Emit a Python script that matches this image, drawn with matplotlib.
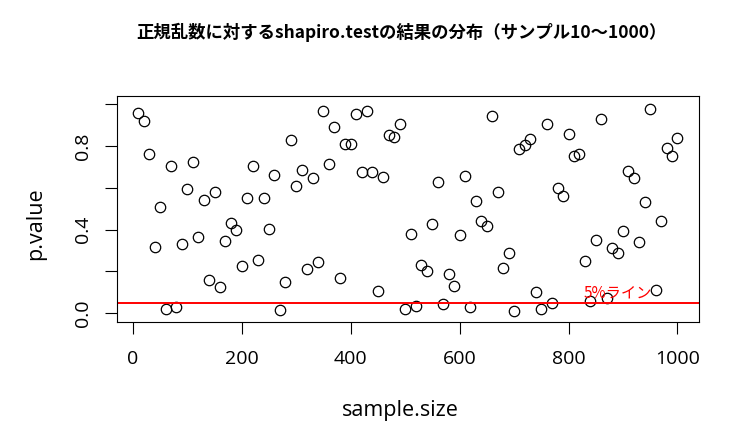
import matplotlib
matplotlib.use("Agg")
import matplotlib.pyplot as plt
import numpy as np

latin = ['Open Sans', 'Noto Sans CJK JP', 'DejaVu Sans']
cjk = ['Noto Sans CJK JP', 'DejaVu Sans']
plt.rcParams['font.family'] = latin

# sample sizes 10..1000 step 10
sample_size = list(range(10, 1001, 10))
# p values
p_value = [
    0.956, 0.919, 0.763, 0.317, 0.508, 0.019, 0.702, 0.032, 0.329, 0.594,
    0.725, 0.365, 0.543, 0.157, 0.579, 0.127, 0.344, 0.433, 0.400, 0.227,
    0.551, 0.706, 0.257, 0.552, 0.403, 0.660, 0.016, 0.148, 0.830, 0.610,
    0.684, 0.210, 0.648, 0.243, 0.967, 0.716, 0.890, 0.168, 0.808, 0.808,
    0.954, 0.676, 0.968, 0.676, 0.105, 0.651, 0.852, 0.843, 0.905, 0.021,
    0.378, 0.037, 0.230, 0.203, 0.429, 0.629, 0.046, 0.190, 0.129, 0.373,
    0.654, 0.030, 0.538, 0.443, 0.419, 0.944, 0.581, 0.215, 0.289, 0.011,
    0.784, 0.805, 0.832, 0.103, 0.019, 0.905, 0.051, 0.597, 0.559, 0.856,
    0.754, 0.763, 0.251, 0.060, 0.349, 0.929, 0.075, 0.310, 0.290, 0.392,
    0.681, 0.649, 0.343, 0.532, 0.975, 0.111, 0.443, 0.789, 0.754, 0.840,
]
threshold = 0.05
title = "正規乱数に対するshapiro.testの結果の分布（サンプル10〜1000）"

fig = plt.figure(figsize=(7.36, 4.33), dpi=100)
ax = fig.add_axes([0.1586, 0.257, 0.9497 - 0.1586, 0.779 - 0.257])

ax.plot(sample_size, p_value, 'o', markerfacecolor='none', markeredgecolor='black',
        markersize=7.5, markeredgewidth=0.9)
ax.axhline(threshold, color='red', linewidth=1.4)
ax.text(890, 0.097, "5%ライン", color='red', fontsize=11, ha='center', va='center',
        family=cjk)

ax.set_xlim(10 - 0.04 * 990, 1000 + 0.04 * 990)
ax.set_ylim(-0.04, 1.04)
ax.set_xticks([0, 200, 400, 600, 800, 1000])
ax.set_yticks([0.0, 0.2, 0.4, 0.6, 0.8, 1.0])
ax.set_yticklabels(['0.0', '', '0.4', '', '0.8', ''], rotation=90, va='center')
ax.tick_params(direction='out', length=8.5, width=0.8, labelsize=14)
ax.tick_params(axis='x', pad=12)
ax.tick_params(axis='y', pad=9)

for s in ax.spines.values():
    s.set_linewidth(0.8)

fig.text(0.048, 0.483, "p.value", rotation=90, ha='center', va='center', fontsize=15.5)
fig.text(0.544, 0.053, "sample.size", ha='center', va='center', fontsize=15.5)
fig.text(0.546, 0.926, title, ha='center', va='center', fontsize=12.5, fontweight='bold',
         family=cjk)

fig.savefig("out.png", dpi=100)
